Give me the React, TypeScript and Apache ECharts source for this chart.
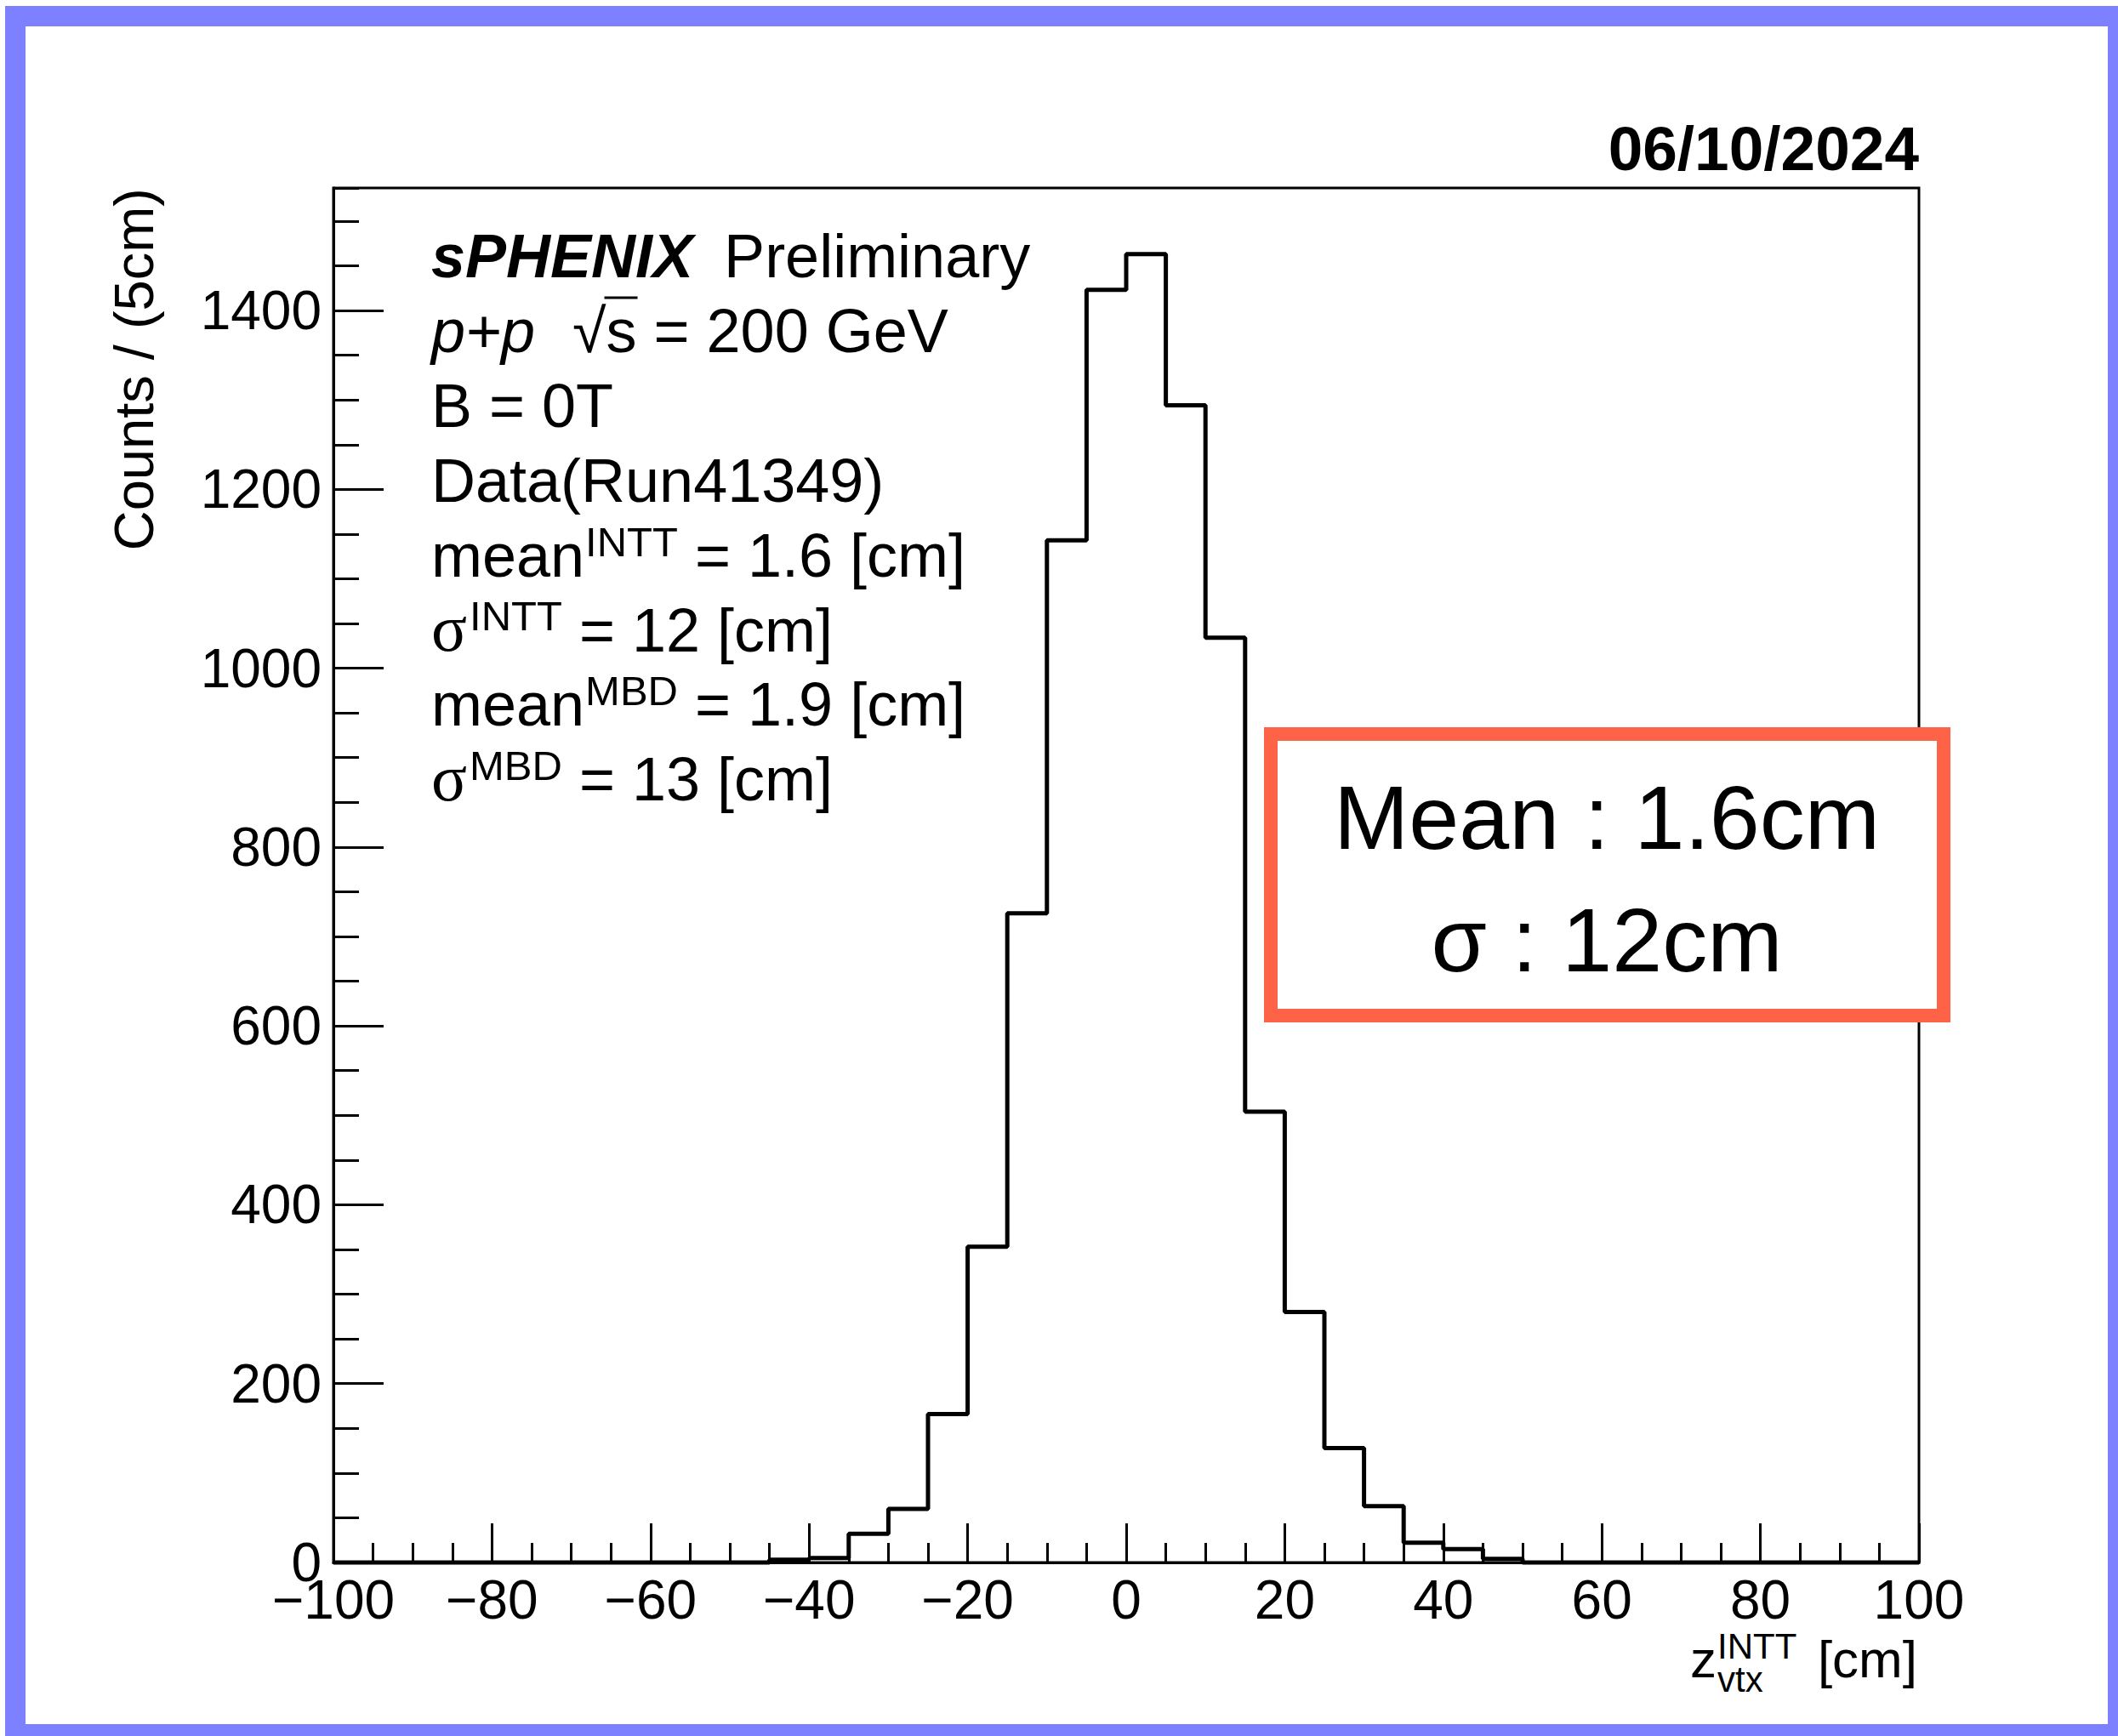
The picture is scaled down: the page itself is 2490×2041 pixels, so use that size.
import React, { useEffect, useRef } from "react";
import * as echarts from "echarts";

// ---------------- data ----------------
const binStart = -100;
const binWidth = 5;
// counts per 5 cm bin, from -100 cm to +100 cm (40 bins)
const counts = [
  0, 0, 0, 0, 0, 0, 0, 0, 0, 0,
  0, 3, 5, 32, 60, 166, 353, 726, 1143, 1423,
  1463, 1294, 1034, 504, 280, 128, 63, 22, 15, 4,
  0, 0, 0, 0, 0, 0, 0, 0, 0, 0,
];
const xTicks = [-100, -80, -60, -40, -20, 0, 20, 40, 60, 80, 100];
const yTicks = [0, 200, 400, 600, 800, 1000, 1200, 1400];
const yMax = 1537;

const dateText = "06/10/2024";
const yTitle = "Counts / (5cm)";
const legendRows = [
  { kind: "title", bold: "sPHENIX", rest: "Preliminary" },
  { kind: "energy", italic: "p+p", rest: "s = 200 GeV" },
  { kind: "plain", text: "B = 0T" },
  { kind: "plain", text: "Data(Run41349)" },
  { kind: "sup", base: "mean", sup: "INTT", rest: " = 1.6 [cm]" },
  { kind: "sigma", base: "\u03C3", sup: "INTT", rest: " = 12 [cm]" },
  { kind: "sup", base: "mean", sup: "MBD", rest: " = 1.9 [cm]" },
  { kind: "sigma", base: "\u03C3", sup: "MBD", rest: " = 13 [cm]" },
];
const boxLines = ["Mean : 1.6cm", "\u03C3 : 12cm"];

// ---------------- helpers ----------------
const SANS = '"Liberation Sans", Arial, Helvetica, sans-serif';
const SERIF = '"Liberation Serif", "Times New Roman", serif';

let measureCtx: CanvasRenderingContext2D | null = null;
function measure(text: string, size: number, opt: any = {}) {
  if (!measureCtx) measureCtx = document.createElement("canvas").getContext("2d");
  const ctx = measureCtx!;
  ctx.font = `${opt.style || "normal"} ${opt.weight || "normal"} ${size}px ${opt.family || SANS}`;
  return ctx.measureText(text).width;
}

// text placed by its alphabetic baseline (central baseline of Liberation fonts ≈ 0.347 em above)
function txt(x: number, baseline: number, text: string, size: number, opt: any = {}) {
  return {
    type: "text",
    x,
    y: baseline - 0.347 * size,
    silent: true,
    z: opt.z || 10,
    style: {
      text,
      fontSize: size,
      fontFamily: opt.family || SANS,
      fontWeight: opt.weight || "normal",
      fontStyle: opt.style || "normal",
      fill: "#000",
      align: opt.align || "left",
      verticalAlign: "middle",
    },
  };
}

function buildGraphics() {
  const g: any[] = [];
  // outer hand-drawn style frame
  g.push({
    type: "rect",
    silent: true,
    z: 1,
    shape: { x: 18, y: 19, width: 2472, height: 2020 },
    style: { fill: "none", stroke: "#7D80FF", lineWidth: 24 },
  });

  // date
  g.push(txt(2256, 200, dateText, 73, { weight: "bold", align: "right" }));

  // legend block
  const lx = 507;
  const fs = 72;
  const sfs = 49;
  legendRows.forEach((row: any, i: number) => {
    const b = 326 + 87.9 * i;
    if (row.kind === "title") {
      const w = measure(row.bold, fs, { weight: "bold", style: "italic" });
      g.push(txt(lx, b, row.bold, fs, { weight: "bold", style: "italic" }));
      g.push(txt(lx + w + 36, b, row.rest, fs));
    } else if (row.kind === "energy") {
      g.push(txt(lx, b, row.italic, fs, { style: "italic" }));
      const sx = 673;
      const rad = "\u221A";
      const wr = measure(rad, fs);
      const ws = measure("s", fs);
      g.push(txt(sx, b, rad, fs));
      g.push(txt(sx + wr, b, row.rest, fs));
      g.push({
        type: "line",
        silent: true,
        z: 10,
        shape: { x1: sx + wr - 2, y1: b - 64, x2: sx + wr + ws + 1, y2: b - 64 },
        style: { stroke: "#000", lineWidth: 3 },
      });
    } else if (row.kind === "plain") {
      g.push(txt(lx, b, row.text, fs));
    } else {
      const isSigma = row.kind === "sigma";
      const bopt = isSigma ? { family: SERIF } : {};
      const bsize = isSigma ? 78 : fs;
      const wb = measure(row.base, bsize, bopt);
      g.push(txt(lx, b, row.base, bsize, bopt));
      const supX = lx + wb + (isSigma ? 3 : 1);
      g.push(txt(supX, b - 24, row.sup, sfs));
      const wsup = measure(row.sup, sfs);
      g.push(txt(supX + wsup, b, row.rest, fs));
    }
  });

  // y-axis title (rotated)
  g.push({
    type: "text",
    x: 157,
    y: 221,
    rotation: Math.PI / 2,
    silent: true,
    z: 10,
    style: {
      text: yTitle,
      fontSize: 65,
      fontFamily: SANS,
      fill: "#000",
      align: "right",
      verticalAlign: "middle",
    },
  });

  // x-axis title: z_{vtx}^{INTT} [cm]
  const zx = 1987;
  const wz = measure("z", 62);
  g.push(txt(zx, 1972, "z", 62));
  g.push(txt(zx + wz + 1, 1950, "INTT", 42));
  g.push(txt(zx + wz + 1, 1989, "vtx", 42));
  g.push(txt(2254, 1972, "[cm]", 62, { align: "right" }));

  // red annotation box
  g.push({
    type: "rect",
    silent: true,
    z: 20,
    shape: { x: 1494, y: 863, width: 791, height: 331 },
    style: { fill: "#ffffff", stroke: "#FF6347", lineWidth: 16 },
  });
  g.push(txt(1889, 998, boxLines[0], 106, { align: "center", z: 21 }));
  g.push(txt(1889, 1142, boxLines[1], 106, { align: "center", z: 21 }));
  return g;
}

export default function App() {
  const ref = useRef<HTMLDivElement>(null);
  useEffect(() => {
    document.body.style.margin = "0";
    const chart = echarts.init(ref.current!, null, { renderer: "svg" });
    const histData: number[][] = counts.map((c, i) => [binStart + i * binWidth, c]);
    histData.push([binStart + counts.length * binWidth, counts[counts.length - 1]]);

    const labelFont = { color: "#000", fontSize: 64, fontFamily: SANS };
    chart.setOption({
      animation: false,
      backgroundColor: "#ffffff",
      grid: {
        left: 392,
        top: 221,
        width: 1864,
        height: 1616,
        show: true,
        borderColor: "#000",
        borderWidth: 3,
        backgroundColor: "transparent",
        containLabel: false,
        outerBoundsMode: "none",
      },
      xAxis: {
        type: "value",
        min: xTicks[0],
        max: xTicks[xTicks.length - 1],
        interval: xTicks[1] - xTicks[0],
        axisLine: { show: true, onZero: false, lineStyle: { color: "#000", width: 3 } },
        axisTick: { show: true, inside: true, length: 46, lineStyle: { color: "#000", width: 3 } },
        minorTick: { show: true, splitNumber: 4, length: 23, lineStyle: { color: "#000", width: 3 } },
        splitLine: { show: false },
        axisLabel: {
          ...labelFont,
          margin: 12,
          showMinLabel: true,
          showMaxLabel: true,
          formatter: (v: number) => (v < 0 ? "\u2212" + Math.abs(v) : String(v)),
        },
      },
      yAxis: [
        {
          type: "value",
          min: 0,
          max: yMax,
          interval: yTicks[1] - yTicks[0],
          position: "left",
          axisLine: { show: true, onZero: false, lineStyle: { color: "#000", width: 3 } },
          axisTick: { show: true, inside: true, length: 59, lineStyle: { color: "#000", width: 3 } },
          splitLine: { show: false },
          axisLabel: {
            ...labelFont,
            margin: 14,
            showMaxLabel: false,
            formatter: (v: number) => String(v),
          },
        },
        {
          type: "value",
          min: 0,
          max: yMax,
          interval: 50,
          position: "left",
          offset: 0,
          axisLine: { show: false, onZero: false },
          axisTick: { show: true, inside: true, length: 30, lineStyle: { color: "#000", width: 3 } },
          splitLine: { show: false },
          axisLabel: { show: false },
        },
      ],
      series: [
        {
          type: "line",
          data: histData,
          step: "end",
          symbol: "none",
          showSymbol: false,
          clip: false,
          silent: true,
          yAxisIndex: 0,
          lineStyle: { color: "#000", width: 5 },
          z: 5,
        },
      ],
      graphic: buildGraphics(),
    });
    return () => chart.dispose();
  }, []);
  return (
    <div
      ref={ref}
      style={{ position: "absolute", left: 0, top: 0, width: 2490, height: 2041, background: "#fff" }}
    />
  );
}
